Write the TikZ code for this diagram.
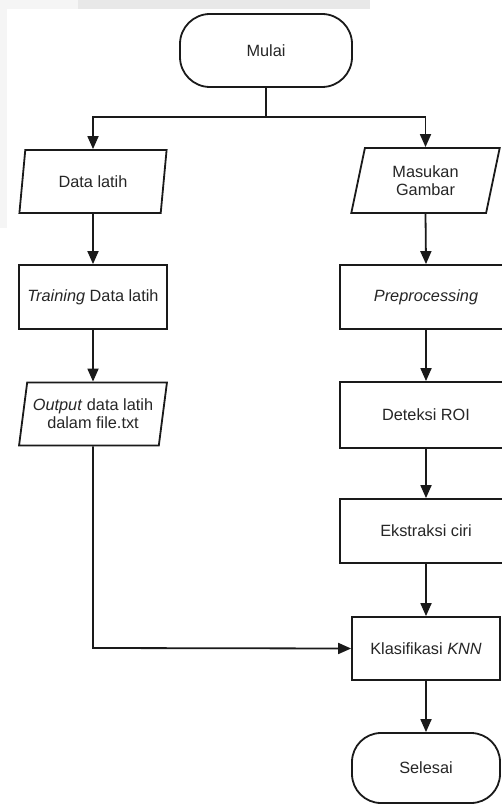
\documentclass[tikz,border=0pt]{standalone}
\usepackage{fontspec}
\setmainfont{Liberation Sans}
\usetikzlibrary{shapes.geometric,arrows.meta}
\definecolor{ink}{HTML}{1A1A1A}
\definecolor{txt}{HTML}{262626}
\tikzset{
  base/.style={draw=ink, line width=1.8pt, text=txt, font=\fontsize{16.3}{17.8}\selectfont, align=center, inner sep=0pt},
  term/.style={base, rectangle, rounded corners=30pt, minimum width=172pt, minimum height=73pt},
  proc/.style={base, rectangle, minimum width=148pt, minimum height=64pt},
  io/.style={base, trapezium, trapezium left angle=76, trapezium right angle=104, trapezium stretches=true, minimum width=148pt, minimum height=63pt},
  flow/.style={draw=ink, line width=1.8pt, -{Triangle[length=13pt,width=11pt]}},
  plain/.style={draw=ink, line width=1.8pt}
}
\begin{document}
\begin{tikzpicture}[x=1pt,y=-1pt]
\clip (0,0) rectangle (502,805);
\fill[white] (0,0) rectangle (502,805);
\fill[black!4] (0,0) rectangle (78,9);
\fill[black!4] (0,9) rectangle (7,228);
\fill[black!9] (78,0) rectangle (370,9);

\node[term] (mulai) at (266,50.5) {Mulai};
\coordinate (split) at (266,117);

\node[io] (data) at (93,181.5) {Data latih};
\node[proc] (train) at (93,297) {\textit{Training} Data latih};
\node[io] (out) at (93,414) {\textit{Output} data latih\\dalam file.txt};

\node[io, minimum width=149pt, minimum height=65pt] (masuk) at (425.5,180.5) {Masukan\\Gambar};
\node[proc, minimum width=172pt] (pre) at (426,297) {\textit{Preprocessing}};
\node[proc, minimum width=172pt, minimum height=66pt] (roi) at (426,415) {Deteksi ROI};
\node[proc, minimum width=172pt] (eks) at (426,531) {Ekstraksi ciri};
\node[proc, minimum height=63pt] (knn) at (426,648.5) {Klasifikasi \textit{KNN}};
\node[term, minimum width=148pt, minimum height=70pt, rounded corners=29pt] (selesai) at (426,768) {Selesai};

\coordinate (corner) at (93,648);

\draw[plain] (mulai.south) -- (split);
\draw[flow] (split) -| (data.north);
\draw[flow] (split) -| (masuk.north);
\draw[flow] (data.south) -- (train.north);
\draw[flow] (train.south) -- (out.north);
\draw[flow] (masuk.south) -- (pre.north);
\draw[flow] (pre.south) -- (roi.north);
\draw[flow] (roi.south) -- (eks.north);
\draw[flow] (eks.south) -- (knn.north);
\draw[flow] (knn.south) -- (selesai.north);
\draw[flow] (out.south) -- (corner) -- (knn.west);
\end{tikzpicture}
\end{document}
